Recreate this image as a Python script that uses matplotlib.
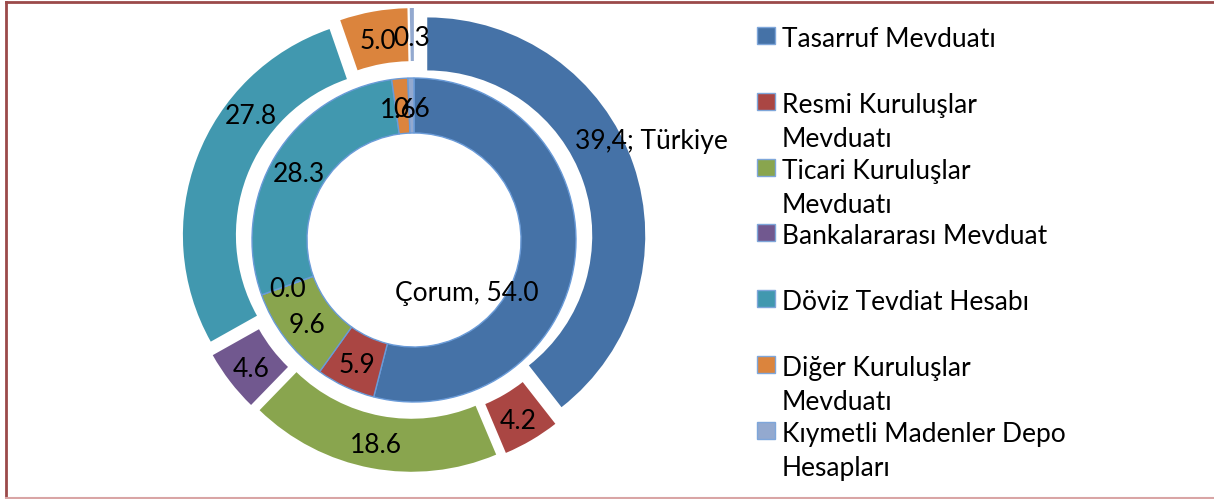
import matplotlib
matplotlib.use("Agg")
from matplotlib import pyplot as plt
from matplotlib.patches import Rectangle
from matplotlib.lines import Line2D

# deposit types (legend order = slice order)
categories = ["Tasarruf Mevduatı", "Resmi Kuruluşlar\nMevduatı",
              "Ticari Kuruluşlar\nMevduatı", "Bankalararası Mevduat",
              "Döviz Tevdiat Hesabı", "Diğer Kuruluşlar\nMevduatı",
              "Kıymetli Madenler Depo\nHesapları"]
turkiye = [39.4, 4.2, 18.6, 4.6, 27.8, 5.0, 0.3]   # outer ring
corum = [54.0, 5.9, 9.6, 0.0, 28.3, 1.6, 0.6]      # inner ring
colors = ["#4572A7", "#AA4643", "#89A54E", "#71588F",
          "#4198AF", "#DB843D", "#93A9CF"]

W, H = 1214, 499
plt.rcParams['font.family'] = ['Lato', 'DejaVu Sans']
FS = 19

fig = plt.figure(figsize=(W / 100, H / 100), dpi=100)

# axes in pixel units centred on the doughnut
cx, cy, half = 414, 240, 240
ax = fig.add_axes([(cx - half) / W, 1 - (cy + half) / H,
                   2 * half / W, 2 * half / H])

r_out, w_out = 218, 53
r_in, w_in = 162, 55

outer_labels = ["%.1f" % v for v in turkiye]
outer_labels[0] = "39,4; Türkiye"
inner_labels = ["%.1f" % v for v in corum]
inner_labels[0] = "Çorum, 54.0"

txt = dict(ha='center', va='center', fontsize=FS, color='black')

_, texts_o = ax.pie(turkiye, radius=r_out, colors=colors, startangle=90,
                    counterclock=False, explode=[14] * len(turkiye),
                    labels=outer_labels,
                    labeldistance=(r_out - w_out / 2) / r_out,
                    wedgeprops=dict(width=w_out, linewidth=0),
                    textprops=txt)
_, texts_i = ax.pie(corum, radius=r_in, colors=colors, startangle=90,
                    counterclock=False, labels=inner_labels,
                    labeldistance=(r_in - w_in / 2) / r_in,
                    wedgeprops=dict(width=w_in, edgecolor='#6A9BD8',
                                    linewidth=1),
                    textprops=txt)

# labels that were dragged by hand in the original
texts_o[0].set_position((651 - cx, cy - 137))
texts_o[4].set_position((251 - cx, cy - 113))
texts_i[0].set_position((467 - cx, cy - 290))
for t in texts_o + texts_i:
    x, y = t.get_position()
    t.set_position((x, y - 4))
# small Çorum slices share one spot at the top
x, y = texts_i[5].get_position()
texts_i[5].set_position((x - 4, y))

ax.set_xlim(-half, half)
ax.set_ylim(-half, half)
ax.axis('off')

# legend drawn by hand (Excel style, wrapped lines)
for i, (name, col) in enumerate(zip(categories, colors)):
    base = 47 + i * 65.8
    fig.patches.append(Rectangle((757 / W, 1 - (base - 3) / H), 18 / W, 17 / H,
                                 transform=fig.transFigure,
                                 facecolor=col, edgecolor='#7EA6DA', lw=1))
    for k, line in enumerate(name.split("\n")):
        fig.text(782 / W, 1 - (base + k * 34) / H, line, fontsize=FS,
                 ha='left', va='baseline', color='black')

# frame lines
fig.add_artist(Line2D([6 / W, 1], [1 - 1.5 / H, 1 - 1.5 / H],
                      transform=fig.transFigure, color='#9B4A4A', lw=2))
fig.add_artist(Line2D([6 / W, 6 / W], [0, 1 - 1.5 / H],
                      transform=fig.transFigure, color='#9B4A4A', lw=2))
fig.add_artist(Line2D([6 / W, 1], [1 - 498 / H, 1 - 498 / H],
                      transform=fig.transFigure, color='#D9A5A5', lw=1.5))

fig.savefig("out.png", dpi=100)
